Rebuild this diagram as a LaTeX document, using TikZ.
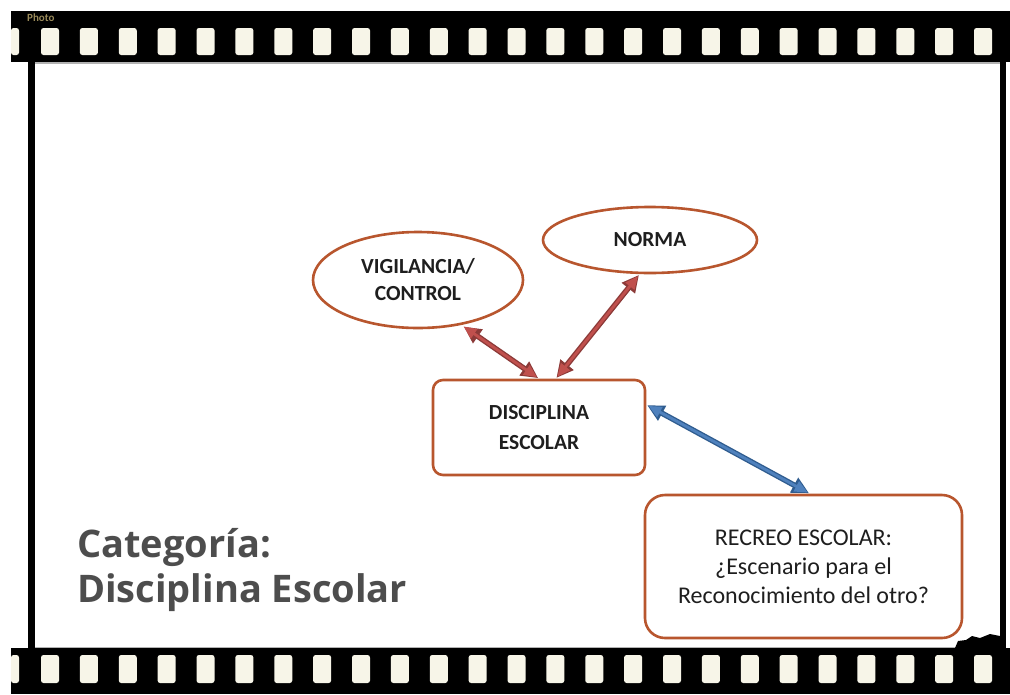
\documentclass[tikz,border=0pt]{standalone}
\usepackage{fontspec}
\setmainfont{Carlito}
\newfontfamily\catfont{Open Sans}
\usetikzlibrary{arrows.meta,shapes.geometric}
\definecolor{nodeline}{HTML}{B8562E}
\definecolor{redfill}{HTML}{C0504D}
\definecolor{redline}{HTML}{8C3A38}
\definecolor{bluefill}{HTML}{4F81BD}
\definecolor{blueline}{HTML}{2F5C8F}
\definecolor{holecol}{HTML}{F7F5E8}
\definecolor{cattext}{HTML}{4D4D4D}
\definecolor{nodetext}{HTML}{1E1E1E}
\definecolor{phototext}{HTML}{9A8A5A}
\tikzset{
  ell/.style={ellipse, draw=nodeline, line width=2.6pt, fill=white, inner sep=0pt,
    align=center, text=nodetext, font=\bfseries\fontsize{21.5}{27}\selectfont},
  boxnode/.style={rectangle, draw=nodeline, line width=2.6pt, fill=white, inner sep=0pt,
    align=center, text=nodetext},
  hole/.style={fill=holecol, rounded corners=2.5pt},
  redarrow/.style={draw=redline, line width=5.5pt,
    {Triangle[length=17pt,width=16pt]}-{Triangle[length=17pt,width=16pt]},
    postaction={draw=redfill, line width=2.8pt, shorten <=2.5pt, shorten >=2.5pt,
      {Triangle[length=13pt,width=11pt]}-{Triangle[length=13pt,width=11pt]}}},
  bluearrow/.style={draw=blueline, line width=5.5pt,
    {Triangle[length=17pt,width=16pt]}-{Triangle[length=17pt,width=16pt]},
    postaction={draw=bluefill, line width=2.8pt, shorten <=2.5pt, shorten >=2.5pt,
      {Triangle[length=13pt,width=11pt]}-{Triangle[length=13pt,width=11pt]}}}
}
\begin{document}
\begin{tikzpicture}[x=1pt,y=-1pt]
\useasboundingbox (0,0) rectangle (1010,694);
\fill[white] (0,0) rectangle (1010,694);
% film strips
\fill[black] (11,11) rectangle (1010,62);
\fill[black] (11,648) rectangle (1010,694);
\fill[black] (28,62) rectangle (35,648);
\fill[black] (1000,62) rectangle (1006,648);
\fill[gray!60] (35,62) rectangle (1000,63.5);
\fill[gray!60] (35,646.5) rectangle (1000,648);
% holes
\fill[hole] (11,28) rectangle (19,55);
\fill[hole] (11,655) rectangle (19,683);
\foreach \i in {0,...,24}{
  \fill[hole] ({41+38.875*\i},28) rectangle ({59+38.875*\i},55);
  \fill[hole] ({41+38.875*\i},655) rectangle ({59+38.875*\i},683);
}
% bottom-right blob
\fill[black] (955,648) -- (958,641) -- (966,640) -- (972,636) -- (980,638) -- (990,634) -- (1000,636) -- (1000,648) -- cycle;
\node[text=phototext, font=\bfseries\fontsize{11}{12}\selectfont, anchor=west, inner sep=0pt] (photo) at (27,18) {Photo};
% nodes
\node[ell, minimum width=210pt, minimum height=96pt] (vig) at (418,280) {VIGILANCIA/\\CONTROL};
\node[ell, minimum width=214pt, minimum height=66pt] (norma) at (650,240) {NORMA};
\node[boxnode, rounded corners=10pt, minimum width=212pt, minimum height=95pt,
  font=\bfseries\fontsize{21.5}{30}\selectfont] (disc) at (539,427.5) {DISCIPLINA\\ESCOLAR};
\node[boxnode, rounded corners=20pt, minimum width=317pt, minimum height=143pt,
  font=\fontsize{24}{29}\selectfont] (rec) at (803.5,566.5) {RECREO ESCOLAR:\\¿Escenario para el\\Reconocimiento del otro?};
% title
\node[anchor=north west, align=left, inner sep=0pt, text=cattext,
  font=\catfont\bfseries\fontsize{38}{45}\selectfont] (cat) at (77,528) {Categoría:\\Disciplina Escolar};
% connectors
\draw[redarrow, shorten <=3pt, shorten >=1pt] (vig.-46) -- (disc.north);
\draw[redarrow, shorten <=1pt, shorten >=1pt] (disc.71) -- (norma.-107);
\draw[bluearrow, shorten <=1pt, shorten >=1pt] (disc.12) -- (rec.85);
\end{tikzpicture}
\end{document}
